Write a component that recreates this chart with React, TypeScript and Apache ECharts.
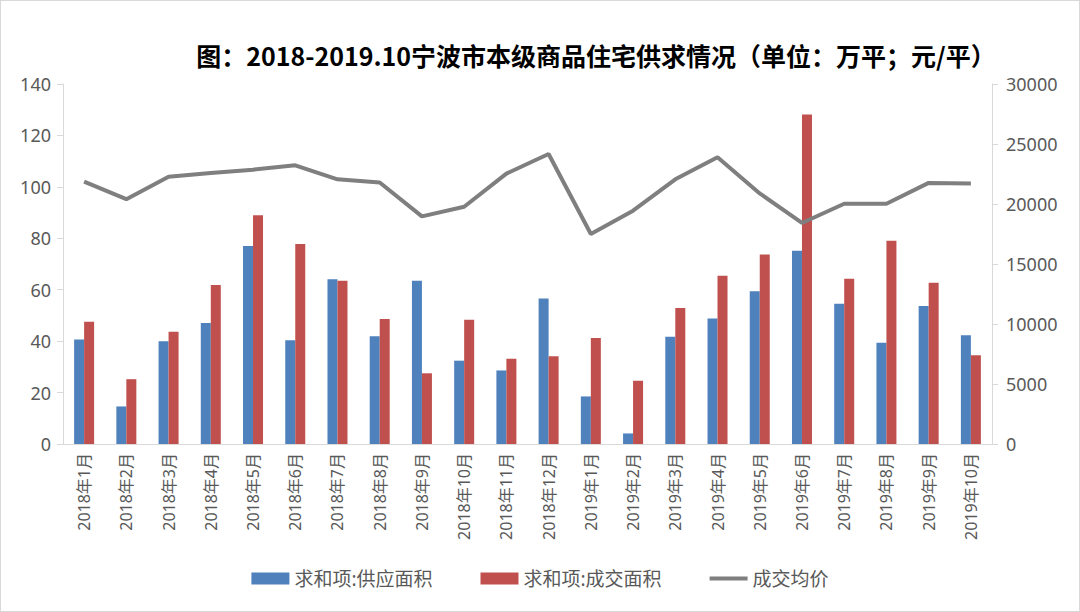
import React, { useEffect, useRef } from "react";
import * as echarts from "echarts";

const categories = [
  "2018年1月", "2018年2月", "2018年3月", "2018年4月", "2018年5月", "2018年6月",
  "2018年7月", "2018年8月", "2018年9月", "2018年10月", "2018年11月", "2018年12月",
  "2019年1月", "2019年2月", "2019年3月", "2019年4月", "2019年5月", "2019年6月",
  "2019年7月", "2019年8月", "2019年9月", "2019年10月",
];

const supplyArea = [
  40.6, 14.6, 40.0, 47.1, 77.0, 40.3, 64.1, 41.9, 63.5, 32.4, 28.6, 56.6,
  18.5, 4.1, 41.7, 48.8, 59.4, 75.2, 54.5, 39.4, 53.7, 42.3,
];

const dealArea = [
  47.5, 25.2, 43.7, 61.8, 89.0, 77.8, 63.5, 48.6, 27.5, 48.3, 33.2, 34.1,
  41.2, 24.6, 52.9, 65.4, 73.7, 128.1, 64.3, 79.0, 62.7, 34.5,
];

const avgPrice = [
  21870, 20400, 22280, 22590, 22860, 23220, 22060, 21790, 18970, 19770, 22530, 24170,
  17500, 19440, 22060, 23890, 20880, 18420, 20020, 20020, 21760, 21700,
];

const seriesNames = ["求和项:供应面积", "求和项:成交面积", "成交均价"];
const titleText = "图：2018-2019.10宁波市本级商品住宅供求情况（单位：万平；元/平）";

export default function App() {
  const ref = useRef<HTMLDivElement>(null);

  useEffect(() => {
    document.body.style.margin = "0";
    const chart = echarts.init(ref.current!, undefined, { renderer: "svg" });
    const labelColor = "#595959";
    const axisColor = "#d9d9d9";
    const font = "'Noto Sans', 'Noto Sans CJK SC', sans-serif";
    chart.setOption({
      animation: false,
      backgroundColor: "#ffffff",
      title: {
        text: titleText,
        left: 590,
        top: 36,
        textAlign: "center",
        textStyle: {
          fontFamily: "'Noto Sans CJK SC', sans-serif",
          fontWeight: "bold",
          fontSize: 25,
          color: "#000000",
        },
      },
      legend: {
        data: [
          { name: seriesNames[0], icon: "rect" },
          { name: seriesNames[1], icon: "rect" },
          { name: seriesNames[2], icon: "path://M0 0 H40 V4 H0 Z" },
        ],
        bottom: 18,
        left: "center",
        itemWidth: 38,
        itemHeight: 12,
        itemGap: 48,
        textStyle: { color: labelColor, fontSize: 19, fontFamily: font },
      },
      grid: { left: 62, right: 87, top: 83, bottom: 167, containLabel: false },
      xAxis: {
        type: "category",
        data: categories,
        axisLine: { lineStyle: { color: axisColor, width: 1 } },
        axisTick: { show: false },
        axisLabel: {
          rotate: 90,
          interval: 0,
          color: labelColor,
          fontSize: 16,
          fontFamily: font,
          margin: 9,
        },
      },
      yAxis: [
        {
          type: "value",
          min: 0,
          max: 140,
          interval: 20,
          splitLine: { show: false },
          axisLine: { show: true, lineStyle: { color: axisColor } },
          axisTick: { show: true, length: 6, lineStyle: { color: axisColor } },
          axisLabel: { color: labelColor, fontSize: 18, fontFamily: font, margin: 12 },
        },
        {
          type: "value",
          min: 0,
          max: 30000,
          interval: 5000,
          splitLine: { show: false },
          axisLine: { show: true, lineStyle: { color: axisColor } },
          axisTick: { show: true, length: 6, lineStyle: { color: axisColor } },
          axisLabel: {
            color: labelColor,
            fontSize: 18,
            fontFamily: font,
            margin: 14,
            formatter: (v: number) => String(v),
          },
        },
      ],
      series: [
        {
          name: seriesNames[0],
          type: "bar",
          data: supplyArea,
          barWidth: 10,
          barGap: "0%",
          itemStyle: { color: "#4f81bd" },
        },
        {
          name: seriesNames[1],
          type: "bar",
          data: dealArea,
          barWidth: 10,
          barGap: "0%",
          itemStyle: { color: "#c0504d" },
        },
        {
          name: seriesNames[2],
          type: "line",
          yAxisIndex: 1,
          data: avgPrice,
          symbol: "none",
          lineStyle: { color: "#7f7f7f", width: 4 },
          itemStyle: { color: "#7f7f7f" },
        },
      ],
    });
    return () => chart.dispose();
  }, []);

  return (
    <div
      ref={ref}
      style={{
        width: 1080,
        height: 612,
        boxSizing: "border-box",
        border: "1px solid #d9d9d9",
      }}
    />
  );
}
